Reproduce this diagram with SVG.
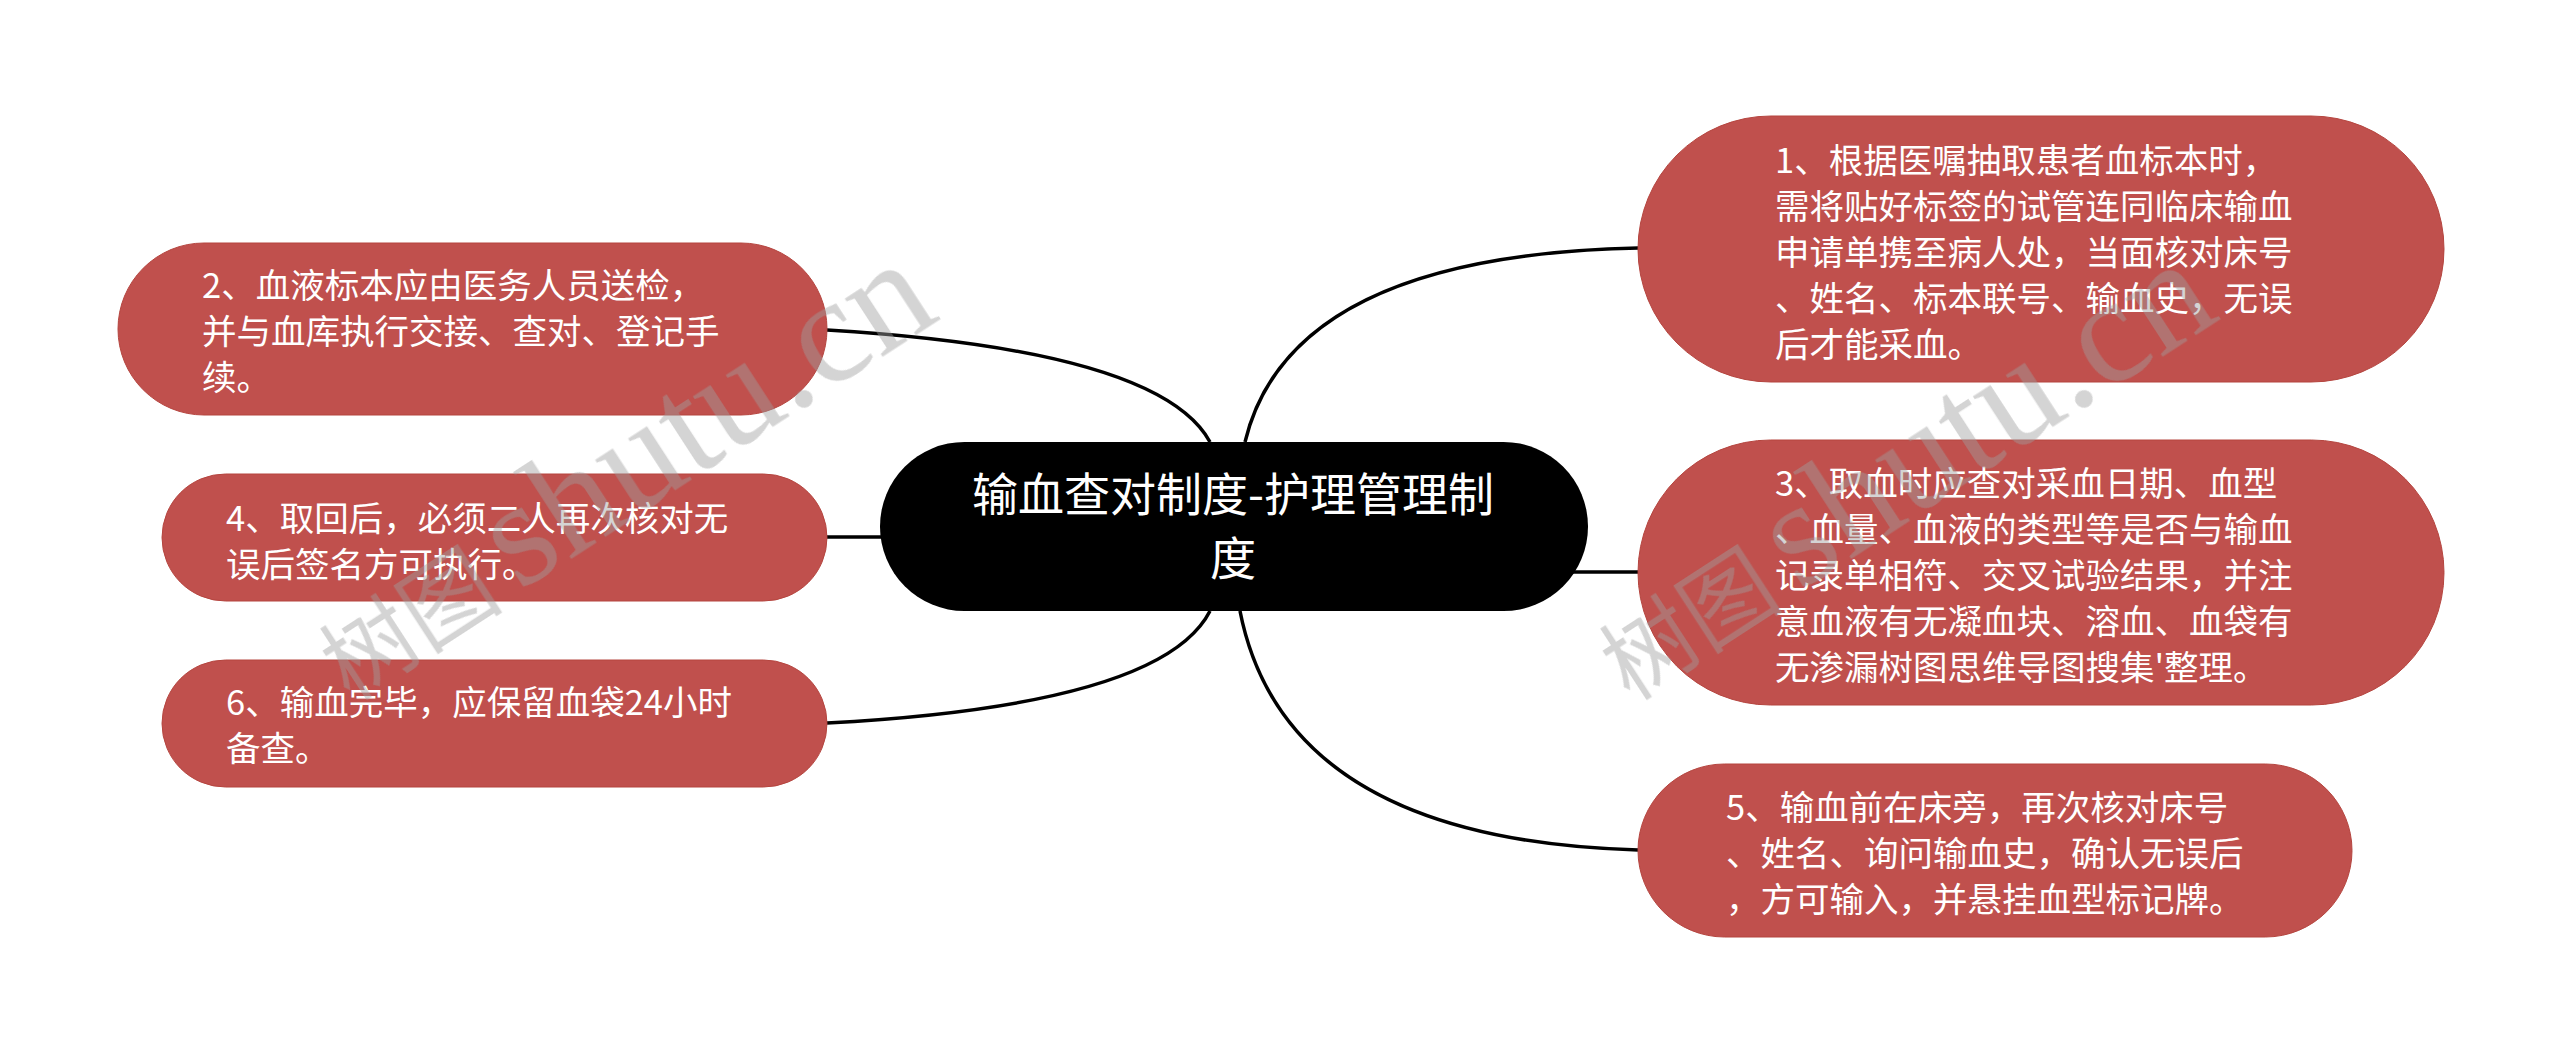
<svg xmlns="http://www.w3.org/2000/svg" width="2560" height="1053" viewBox="0 0 2560 1053">
  <style>
    .conn { fill: none; stroke: #000; stroke-width: 3.5; }
    .sub rect { fill: #C0504D; stroke: #b5453f; stroke-width: 1; }
    .sub text { fill: #fff; font-family: "Noto Sans CJK SC", "Microsoft YaHei", sans-serif; font-size: 34.5px; }
    .root rect { fill: #000; }
    .root text { fill: #fff; font-family: "Noto Sans CJK SC", "Microsoft YaHei", sans-serif; font-size: 46px; text-anchor: middle; }
    .wm { fill: #a0a0a0; opacity: 0.45; }
    .wm .cjk { font-family: "Noto Sans CJK SC", sans-serif; font-size: 92px; }
    .wm .lat { font-family: "Liberation Serif", serif; font-size: 150px; }
  </style>
  <rect width="2560" height="1053" fill="#fff"/>
  <g id="connectors">
    <path class="conn" d="M 1245 442 Q 1290 255 1638 248"/>
    <path class="conn" d="M 1560 572 L 1638 572"/>
    <path class="conn" d="M 1240 611 Q 1285 840 1638 850"/>
    <path class="conn" d="M 1210 442 Q 1160 350 827 330"/>
    <path class="conn" d="M 827 537 L 900 537"/>
    <path class="conn" d="M 1210 611 Q 1162 705 827 723"/>
  </g>
  <g id="root" class="root">
    <rect x="880" y="442" width="708" height="169" rx="84.5"/>
    <text x="1233" y="511">输血查对制度-护理管理制</text>
    <text x="1233" y="575">度</text>
  </g>
  <g id="node1" class="sub">
    <rect x="1638" y="116" width="806" height="266" rx="133"/>
    <text x="1775" y="173">1、根据医嘱抽取患者血标本时，</text>
    <text x="1775" y="219">需将贴好标签的试管连同临床输血</text>
    <text x="1775" y="265">申请单携至病人处，当面核对床号</text>
    <text x="1775" y="311">、姓名、标本联号、输血史，无误</text>
    <text x="1775" y="357">后才能采血。</text>
  </g>
  <g id="node3" class="sub">
    <rect x="1638" y="440" width="806" height="265" rx="132.5"/>
    <text x="1775" y="496">3、取血时应查对采血日期、血型</text>
    <text x="1775" y="542">、血量、血液的类型等是否与输血</text>
    <text x="1775" y="588">记录单相符、交叉试验结果，并注</text>
    <text x="1775" y="634">意血液有无凝血块、溶血、血袋有</text>
    <text x="1775" y="680">无渗漏树图思维导图搜集'整理。</text>
  </g>
  <g id="node5" class="sub">
    <rect x="1638" y="764" width="714" height="173" rx="86.5"/>
    <text x="1726" y="820">5、输血前在床旁，再次核对床号</text>
    <text x="1726" y="866">、姓名、询问输血史，确认无误后</text>
    <text x="1726" y="912">，方可输入，并悬挂血型标记牌。</text>
  </g>
  <g id="node2" class="sub">
    <rect x="118" y="243" width="709" height="172" rx="86"/>
    <text x="202" y="298">2、血液标本应由医务人员送检，</text>
    <text x="202" y="344">并与血库执行交接、查对、登记手</text>
    <text x="202" y="390">续。</text>
  </g>
  <g id="node4" class="sub">
    <rect x="162" y="474" width="665" height="127" rx="63.5"/>
    <text x="226" y="531">4、取回后，必须二人再次核对无</text>
    <text x="226" y="577">误后签名方可执行。</text>
  </g>
  <g id="node6" class="sub">
    <rect x="162" y="660" width="665" height="127" rx="63.5"/>
    <text x="226" y="715">6、输血完毕，应保留血袋24小时</text>
    <text x="226" y="761">备查。</text>
  </g>
  <g id="watermark" class="wm">
    <text transform="translate(350,702) rotate(-33)"><tspan class="cjk">树图</tspan><tspan class="lat" dx="18">shutu.cn</tspan></text>
    <text transform="translate(1630,702) rotate(-33)"><tspan class="cjk">树图</tspan><tspan class="lat" dx="18">shutu.cn</tspan></text>
  </g>
</svg>
